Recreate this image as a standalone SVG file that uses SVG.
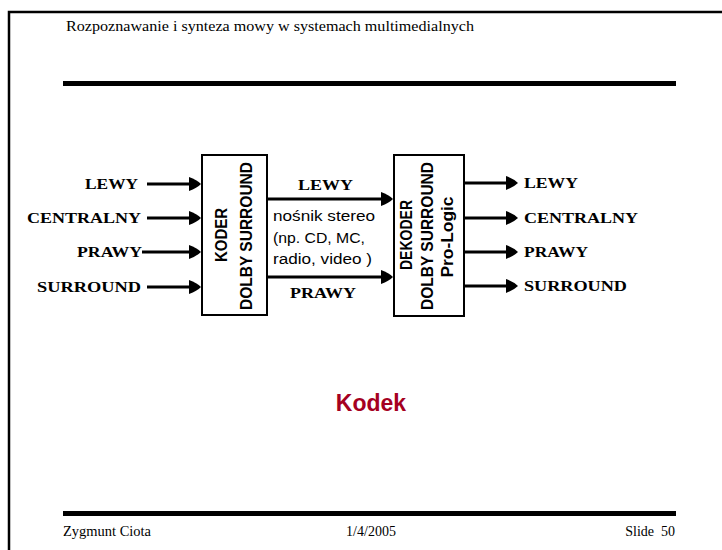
<svg xmlns="http://www.w3.org/2000/svg" width="722" height="550" viewBox="0 0 722 550">
<style>
.frame{fill:none;stroke:#000;stroke-width:2.5}
.bar{fill:#000}
.box{fill:#fff;stroke:#000;stroke-width:2}
.conn{stroke:#000;stroke-width:3;fill:none}
.lbl{font-family:"Liberation Serif","Times New Roman",serif;font-weight:bold;font-size:15px;fill:#000}
.mid{font-family:"Liberation Sans",Arial,sans-serif;font-size:14px;fill:#000}
.rot{font-family:"Liberation Sans",Arial,sans-serif;font-weight:bold;font-size:17px;fill:#000;text-anchor:middle}
.hdr{font-family:"Liberation Serif","Times New Roman",serif;font-size:14px;fill:#000}
.title{font-family:"Liberation Sans",Arial,sans-serif;font-weight:bold;font-size:23px;fill:#A50021;text-anchor:middle}
</style>
<defs>
<marker id="ah" markerUnits="userSpaceOnUse" markerWidth="13" markerHeight="15" refX="8" refY="7" orient="auto" viewBox="0 0 13 15">
<path d="M0,0 Q8,3 12,7 Q8,11 0,14 Z" fill="#000"/>
</marker>
</defs>
<path class="frame" d="M9,550 V12 H722"/>
<rect class="bar" x="63" y="81" width="613" height="5"/>
<rect class="bar" x="63" y="511" width="613" height="5"/>
<text class="hdr" x="66" y="31" textLength="408" lengthAdjust="spacingAndGlyphs">Rozpoznawanie i synteza mowy w systemach multimedialnych</text>
<text class="hdr" x="63" y="536" textLength="88" lengthAdjust="spacingAndGlyphs">Zygmunt Ciota</text>
<text class="hdr" x="371" y="536" text-anchor="middle">1/4/2005</text>
<text class="hdr" x="675" y="536" text-anchor="end" xml:space="preserve">Slide  50</text>

<g id="connectors">
<line class="conn" x1="147" y1="184" x2="197" y2="184" marker-end="url(#ah)"/>
<line class="conn" x1="147" y1="218" x2="197" y2="218" marker-end="url(#ah)"/>
<line class="conn" x1="142" y1="252" x2="197" y2="252" marker-end="url(#ah)"/>
<line class="conn" x1="147" y1="287" x2="197" y2="287" marker-end="url(#ah)"/>
<line class="conn" x1="267" y1="199" x2="389" y2="199" marker-end="url(#ah)"/>
<line class="conn" x1="267" y1="277" x2="389" y2="277" marker-end="url(#ah)"/>
<line class="conn" x1="465" y1="183" x2="514" y2="183" marker-end="url(#ah)"/>
<line class="conn" x1="465" y1="218" x2="514" y2="218" marker-end="url(#ah)"/>
<line class="conn" x1="465" y1="252" x2="514" y2="252" marker-end="url(#ah)"/>
<line class="conn" x1="465" y1="286" x2="514" y2="286" marker-end="url(#ah)"/>
</g>

<g id="inputs">
<text class="lbl" x="85" y="189" textLength="53" lengthAdjust="spacingAndGlyphs">LEWY</text>
<text class="lbl" x="27" y="223" textLength="114" lengthAdjust="spacingAndGlyphs">CENTRALNY</text>
<text class="lbl" x="77" y="257" textLength="65" lengthAdjust="spacingAndGlyphs">PRAWY</text>
<text class="lbl" x="37" y="292" textLength="104" lengthAdjust="spacingAndGlyphs">SURROUND</text>
</g>

<g id="koder">
<rect class="box" x="202" y="155" width="65" height="160"/>
<text class="rot" transform="translate(227,235) rotate(-90)" textLength="54" lengthAdjust="spacingAndGlyphs">KODER</text>
<text class="rot" transform="translate(252,236) rotate(-90)" textLength="148" lengthAdjust="spacingAndGlyphs">DOLBY SURROUND</text>
</g>

<g id="nosnik">
<text class="lbl" x="298" y="190" textLength="55" lengthAdjust="spacingAndGlyphs">LEWY</text>
<text class="mid" x="273" y="221" textLength="102" lengthAdjust="spacingAndGlyphs">nośnik stereo</text>
<text class="mid" x="273" y="243" textLength="92" lengthAdjust="spacingAndGlyphs">(np. CD, MC,</text>
<text class="mid" x="273" y="264" textLength="99" lengthAdjust="spacingAndGlyphs">radio, video )</text>
<text class="lbl" x="290" y="298" textLength="66" lengthAdjust="spacingAndGlyphs">PRAWY</text>
</g>

<g id="dekoder">
<rect class="box" x="394" y="155" width="70" height="161"/>
<text class="rot" transform="translate(412,235) rotate(-90)" textLength="70" lengthAdjust="spacingAndGlyphs">DEKODER</text>
<text class="rot" transform="translate(433,236) rotate(-90)" textLength="148" lengthAdjust="spacingAndGlyphs">DOLBY SURROUND</text>
<text class="rot" transform="translate(453,237) rotate(-90)" textLength="81" lengthAdjust="spacingAndGlyphs">Pro-Logic</text>
</g>

<g id="outputs">
<text class="lbl" x="524" y="188" textLength="54" lengthAdjust="spacingAndGlyphs">LEWY</text>
<text class="lbl" x="524" y="223" textLength="114" lengthAdjust="spacingAndGlyphs">CENTRALNY</text>
<text class="lbl" x="524" y="257" textLength="64" lengthAdjust="spacingAndGlyphs">PRAWY</text>
<text class="lbl" x="524" y="291" textLength="103" lengthAdjust="spacingAndGlyphs">SURROUND</text>
</g>

<g id="kodek">
<text class="title" x="371" y="411">Kodek</text>
</g>
</svg>
